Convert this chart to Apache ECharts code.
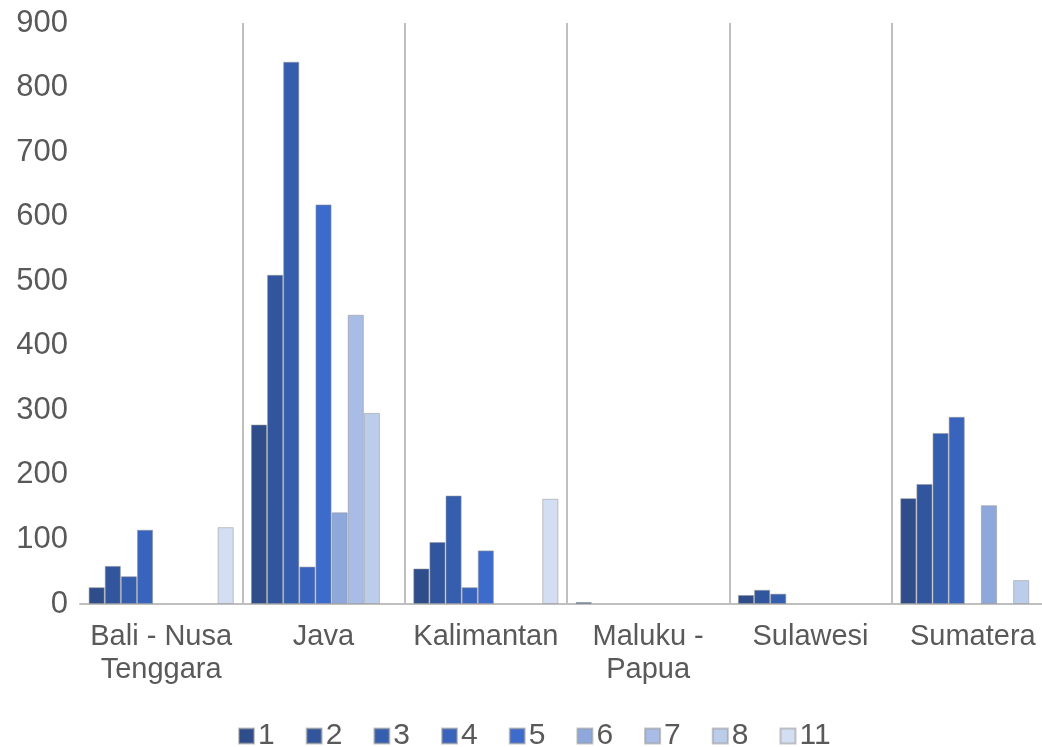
<!DOCTYPE html>
<html>
<head>
<meta charset="utf-8">
<script src="https://cdn.jsdelivr.net/npm/echarts@6/dist/echarts.min.js"></script>
<style>
html,body{margin:0;padding:0;background:#fff;overflow:hidden;}
#chart{width:1054px;height:747px;}
</style>
</head>
<body>
<div id="chart"></div>
<script>
const categories = ['Bali - Nusa\nTenggara', 'Java', 'Kalimantan', 'Maluku -\nPapua', 'Sulawesi', 'Sumatera'];
const seriesNames = ['1', '2', '3', '4', '5', '6', '7', '8', '11'];
const s1 = [26, 278, 55, 3, 14, 164];
const s2 = [59, 510, 96, null, 22, 186];
const s3 = [43, 840, 168, null, 16, 265];
const s4 = [115, 58, 26, null, null, 290];
const s5 = [null, 619, 83, null, null, null];
const s6 = [null, 142, null, null, null, 153];
const s7 = [null, 448, null, null, null, null];
const s8 = [null, 296, null, null, null, 37];
const s11 = [119, null, 163, null, null, null];
const yTicks = [0, 100, 200, 300, 400, 500, 600, 700, 800, 900];

const seriesData = [s1, s2, s3, s4, s5, s6, s7, s8, s11];
const colors = ['#2f4d8a', '#32569d', '#355eae', '#3964bd', '#3d6bcc', '#8ea8dc', '#a8bce5', '#bccdec', '#d4def3'];
const txt = '#595959';
const font = 'Liberation Sans, Arial, sans-serif';

const chart = echarts.init(document.getElementById('chart'), null, {renderer: 'canvas'});
chart.setOption({
  animation: false,
  color: colors,
  grid: {left: 80, top: 23, right: 0, bottom: 143, containLabel: false},
  legend: {
    left: 233, bottom: -9,
    itemWidth: 15, itemHeight: 15, itemGap: 31,
    icon: 'rect',
    textStyle: {color: txt, fontSize: 30, fontFamily: font, padding: [0, 0, 0, -1]},
    data: seriesNames
  },
  xAxis: {
    type: 'category',
    data: categories,
    axisLine: {lineStyle: {color: '#bfbfbf', width: 2}},
    axisTick: {show: false},
    splitLine: {show: true, lineStyle: {width: 2, color: ['rgba(0,0,0,0)', '#bfbfbf', '#bfbfbf', '#bfbfbf', '#bfbfbf', '#bfbfbf', '#bfbfbf']}},
    axisLabel: {color: txt, fontSize: 29, fontFamily: font, lineHeight: 33, margin: 16, interval: 0}
  },
  yAxis: {
    type: 'value',
    min: yTicks[0], max: yTicks[yTicks.length - 1], interval: 100,
    axisLine: {show: false},
    axisTick: {show: false},
    splitLine: {show: false},
    axisLabel: {color: txt, fontSize: 31, fontFamily: font, margin: 12}
  },
  series: seriesData.map((d, i) => ({
    name: seriesNames[i],
    type: 'bar',
    data: d,
    barGap: '0%',
    barCategoryGap: '10.6%',
    itemStyle: {color: colors[i], borderColor: 'rgba(150,150,150,0.55)', borderWidth: 1}
  }))
});
</script>
</body>
</html>
